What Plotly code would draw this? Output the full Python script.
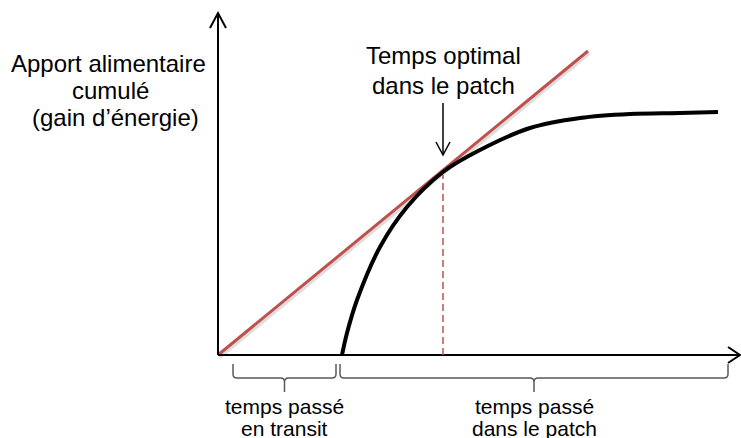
import plotly.graph_objects as go

# ---- data (diagram units: 1 unit ~ 1 px, origin at the axes corner) ----
rate_t = [0, 370]            # tangent line (optimal rate) time
rate_gain = [0, 304]         # tangent line gain
curve_t = [124, 129, 139, 162, 189, 225, 262, 312, 362, 412, 462, 500]
curve_gain = [0, 22, 55, 108, 148, 183, 205, 227, 237, 241, 242, 243]
t_optimal = 225
gain_optimal = 183
transit_span = [15, 118]
patch_span = [122, 510]

ylabel_lines = ["Apport alimentaire", "cumulé", "(gain d’énergie)"]
top_lines = ["Temps optimal", "dans le patch"]
transit_lines = ["temps passé", "en transit"]
patch_lines = ["temps passé", "dans le patch"]

RED = "#C0504D"
FONT = "Liberation Sans, Arial, sans-serif"

fig = go.Figure()

# shadow of red line
fig.add_trace(go.Scatter(x=[v + 1.5 for v in rate_t], y=[v - 2 for v in rate_gain],
                         mode="lines", line=dict(color="rgba(0,0,0,0.13)", width=4),
                         hoverinfo="skip", showlegend=False))
fig.add_trace(go.Scatter(x=rate_t, y=rate_gain, mode="lines",
                         line=dict(color=RED, width=3), showlegend=False))
fig.add_trace(go.Scatter(x=curve_t, y=curve_gain, mode="lines",
                         line=dict(color="black", width=4, shape="spline", smoothing=1.0),
                         showlegend=False))

shapes = []
# axes
shapes.append(dict(type="line", x0=0, y0=0, x1=0, y1=342, line=dict(color="black", width=2)))
shapes.append(dict(type="line", x0=0, y0=0, x1=522, y1=0, line=dict(color="black", width=2)))
# axis arrowheads (open)
shapes.append(dict(type="path", path="M -8,327 L 0,342 L 8,327", line=dict(color="black", width=2)))
shapes.append(dict(type="path", path="M 510,8 L 522,0 L 510,-8", line=dict(color="black", width=2)))
# dashed vertical at optimal time
shapes.append(dict(type="line", x0=t_optimal, y0=0, x1=t_optimal, y1=gain_optimal - 3,
                   line=dict(color=RED, width=1.5, dash="7px,4px")))
# down arrow
shapes.append(dict(type="line", x0=t_optimal, y0=252, x1=t_optimal, y1=200,
                   line=dict(color="black", width=1.5)))
shapes.append(dict(type="path", path=f"M {t_optimal-7},213 L {t_optimal},200 L {t_optimal+7},213",
                   line=dict(color="black", width=1.5)))


def brace(x0, x1, ytop=-9, ymid=-23, ytip=-37, r=4):
    xc = (x0 + x1) / 2
    p = (f"M {x0},{ytop} L {x0},{ymid + r} Q {x0},{ymid} {x0 + r},{ymid} "
         f"L {xc - r},{ymid} Q {xc},{ymid} {xc},{ymid - r} L {xc},{ytip} "
         f"M {xc},{ymid - r} Q {xc},{ymid} {xc + r},{ymid} "
         f"L {x1 - r},{ymid} Q {x1},{ymid} {x1},{ymid + r} L {x1},{ytop}")
    return dict(type="path", path=p, line=dict(color="#595959", width=1.5))


shapes.append(brace(*transit_span))
shapes.append(brace(*patch_span))

annotations = []


def txt(x, y, s, size):
    annotations.append(dict(x=x, y=y, text=s, showarrow=False, xanchor="center",
                            yanchor="middle", font=dict(family=FONT, size=size, color="black")))


for s, x, y in zip(ylabel_lines, [-110, -108, -103], [292, 265, 238]):
    txt(x, y, s, 24)
for s, y in zip(top_lines, [300, 270]):
    txt(t_optimal, y, s, 24)
for s, y in zip(transit_lines, [-51, -73]):
    txt(66, y, s, 21)
for s, y in zip(patch_lines, [-51, -73]):
    txt(316, y, s, 21)

fig.update_layout(
    width=741, height=438,
    margin=dict(l=0, r=0, t=0, b=0),
    paper_bgcolor="white", plot_bgcolor="white",
    xaxis=dict(range=[-218, 523], visible=False, fixedrange=True),
    yaxis=dict(range=[-83, 355], visible=False, fixedrange=True),
    shapes=shapes, annotations=annotations, showlegend=False,
)

fig.write_html("out.html", config={"displayModeBar": False},
               post_script="document.body.style.margin='0';document.body.style.overflow='hidden';")
